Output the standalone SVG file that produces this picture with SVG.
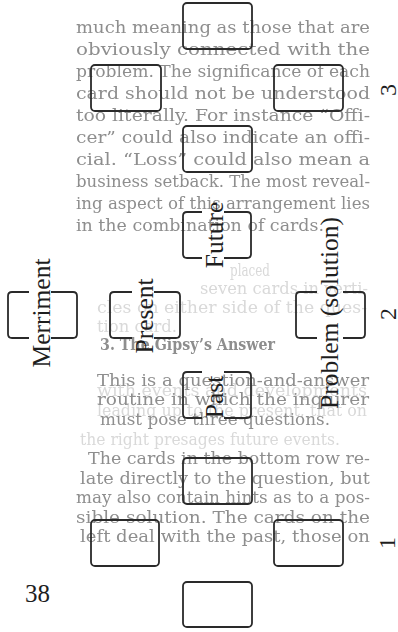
<svg xmlns="http://www.w3.org/2000/svg" width="398" height="632" viewBox="0 0 398 632">
<style>
.card{fill:none;stroke:#2a2a2a;stroke-width:1.8}
.lbl{font-family:"Liberation Serif",serif;font-size:25.5px;fill:#1e1e1e;text-anchor:middle}
.num{font-family:"Liberation Serif",serif;font-size:24px;fill:#1e1e1e;text-anchor:middle}
.bt{font-family:"DejaVu Serif",serif;font-size:16.5px;fill:#8e8e8e}
.ft{font-family:"DejaVu Serif",serif;font-size:16.5px;fill:#d9d9d9}
</style>
<defs>
<filter id="soft" x="-5%" y="-5%" width="110%" height="110%"><feGaussianBlur stdDeviation="0.55"/></filter>
</defs>
<rect x="0" y="0" width="398" height="632" fill="#ffffff"/>
<g id="bleed-through" filter="url(#soft)">
<text class="bt" x="76" y="33" textLength="294" lengthAdjust="spacingAndGlyphs">much meaning as those that are</text>
<text class="bt" x="76" y="55" textLength="294" lengthAdjust="spacingAndGlyphs">obviously connected with the</text>
<text class="bt" x="76" y="77" textLength="294" lengthAdjust="spacingAndGlyphs">problem. The significance of each</text>
<text class="bt" x="76" y="99" textLength="294" lengthAdjust="spacingAndGlyphs">card should not be understood</text>
<text class="bt" x="76" y="121" textLength="294" lengthAdjust="spacingAndGlyphs">too literally. For instance “Offi-</text>
<text class="bt" x="76" y="143" textLength="294" lengthAdjust="spacingAndGlyphs">cer” could also indicate an offi-</text>
<text class="bt" x="76" y="165" textLength="294" lengthAdjust="spacingAndGlyphs">cial. “Loss” could also mean a</text>
<text class="bt" x="76" y="187" textLength="294" lengthAdjust="spacingAndGlyphs">business setback. The most reveal-</text>
<text class="bt" x="76" y="209" textLength="294" lengthAdjust="spacingAndGlyphs">ing aspect of this arrangement lies</text>
<text class="bt" x="76" y="231" textLength="248" lengthAdjust="spacingAndGlyphs">in the combination of cards.</text>
<text class="ft" x="230" y="276" textLength="40" lengthAdjust="spacingAndGlyphs">placed</text>
<text class="ft" x="200" y="294" textLength="168" lengthAdjust="spacingAndGlyphs">seven cards in verti-</text>
<text class="ft" x="97" y="313" textLength="270" lengthAdjust="spacingAndGlyphs">cles on either side of the ques-</text>
<text class="ft" x="97" y="332" textLength="80" lengthAdjust="spacingAndGlyphs">tion card.</text>
<text class="bt" x="100" y="350" textLength="175" lengthAdjust="spacingAndGlyphs" font-weight="bold">3. The Gipsy’s Answer</text>
<text class="ft" x="97" y="396" textLength="270" lengthAdjust="spacingAndGlyphs">with events and developments</text>
<text class="ft" x="97" y="416" textLength="270" lengthAdjust="spacingAndGlyphs">leading up to the present, that on</text>
<text class="ft" x="80" y="445" textLength="260" lengthAdjust="spacingAndGlyphs">the right presages future events.</text>
<text class="bt" x="97" y="386" textLength="272" lengthAdjust="spacingAndGlyphs">This is a question-and-answer</text>
<text class="bt" x="97" y="405" textLength="272" lengthAdjust="spacingAndGlyphs">routine in which the inquirer</text>
<text class="bt" x="100" y="425" textLength="230" lengthAdjust="spacingAndGlyphs">must pose three questions.</text>
<text class="bt" x="88" y="464" textLength="282" lengthAdjust="spacingAndGlyphs">The cards in the bottom row re-</text>
<text class="bt" x="80" y="484" textLength="290" lengthAdjust="spacingAndGlyphs">late directly to the question, but</text>
<text class="bt" x="76" y="503" textLength="294" lengthAdjust="spacingAndGlyphs">may also contain hints as to a pos-</text>
<text class="bt" x="76" y="523" textLength="294" lengthAdjust="spacingAndGlyphs">sible solution. The cards on the</text>
<text class="bt" x="80" y="542" textLength="290" lengthAdjust="spacingAndGlyphs">left deal with the past, those on</text>
</g>
<g id="layout-3">
<rect id="l3-top" class="card" x="183" y="3" width="69" height="46" rx="4"/>
<rect id="l3-left" class="card" x="91" y="65" width="70" height="46" rx="4"/>
<rect id="l3-right" class="card" x="274" y="65" width="69" height="46" rx="4"/>
<rect id="l3-bottom" class="card" x="183" y="126" width="69" height="46" rx="4"/>
<text class="num" transform="translate(396,90) rotate(-90)">3</text>
</g>
<g id="layout-2">
<g id="future">
<path class="card" d="M202,212 H187 Q183,212 183,216 V254 Q183,258 187,258 H202"/>
<path class="card" d="M224,212 H247 Q251,212 251,216 V254 Q251,258 247,258 H224"/>
<text class="lbl" transform="translate(223,235) rotate(-90)">Future</text>
</g>
<g id="merriment">
<path class="card" d="M29,292 H12 Q8,292 8,296 V334 Q8,338 12,338 H29"/>
<path class="card" d="M51,292 H73 Q77,292 77,296 V334 Q77,338 73,338 H51"/>
<text class="lbl" transform="translate(50,313) rotate(-90)">Merriment</text>
</g>
<g id="present">
<path class="card" d="M132,292 H114 Q110,292 110,296 V334 Q110,338 114,338 H132"/>
<path class="card" d="M154,292 H176 Q180,292 180,296 V334 Q180,338 176,338 H154"/>
<text class="lbl" transform="translate(153,316) rotate(-90)">Present</text>
</g>
<g id="problem">
<path class="card" d="M317,292 H300 Q296,292 296,296 V334 Q296,338 300,338 H317"/>
<path class="card" d="M343,292 H361 Q365,292 365,296 V334 Q365,338 361,338 H343"/>
<text class="lbl" transform="translate(338,313) rotate(-90)">Problem (solution)</text>
</g>
<g id="past">
<path class="card" d="M202,372 H187 Q183,372 183,376 V414 Q183,418 187,418 H202"/>
<path class="card" d="M224,372 H247 Q251,372 251,376 V414 Q251,418 247,418 H224"/>
<text class="lbl" transform="translate(223,397) rotate(-90)">Past</text>
</g>
<text class="num" transform="translate(396,314) rotate(-90)">2</text>
</g>
<g id="layout-1">
<rect id="l1-top" class="card" x="183" y="458" width="69" height="46" rx="4"/>
<rect id="l1-left" class="card" x="91" y="520" width="68" height="46" rx="4"/>
<rect id="l1-right" class="card" x="274" y="520" width="69" height="46" rx="4"/>
<rect id="l1-bottom" class="card" x="183" y="582" width="69" height="45" rx="4"/>
<text class="num" transform="translate(395,543) rotate(-90)">1</text>
</g>
<g id="connectors"></g>
<text id="page-number" x="25" y="602" font-family="Liberation Serif, serif" font-size="25" fill="#1e1e1e">38</text>
</svg>
